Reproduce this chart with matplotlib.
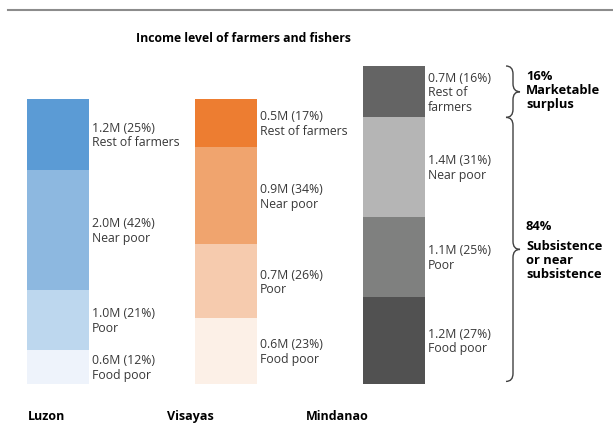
import matplotlib.pyplot as plt
from matplotlib.path import Path
from matplotlib.patches import PathPatch

plt.rcParams['font.family'] = ['Open Sans', 'DejaVu Sans']

# segments listed bottom to top
levels = ['Food poor', 'Poor', 'Near poor', 'Rest of farmers']
regions = ['Luzon', 'Visayas', 'Mindanao']
luzon_m = [0.6, 1.0, 2.0, 1.2]
luzon_pct = [12, 21, 42, 25]
visayas_m = [0.6, 0.7, 0.9, 0.5]
visayas_pct = [23, 26, 34, 17]
mindanao_m = [1.2, 1.1, 1.4, 0.7]
mindanao_pct = [27, 25, 31, 16]

luzon_colors = ['#eef3fb', '#bdd7ee', '#8db8e0', '#5b9bd5']
visayas_colors = ['#fcf0e7', '#f6cbae', '#f0a46e', '#ed7d31']
mindanao_colors = ['#515151', '#7f807f', '#b5b5b5', '#646464']

W, H = 613, 439
fig = plt.figure(figsize=(W / 100, H / 100), dpi=100)

# horizontal rule at the top
fig.add_artist(plt.Line2D([8 / W, 1], [1 - 11 / H, 1 - 11 / H], color='#8c8c8c', lw=1.5))
fig.text(243 / W, 1 - 38 / H, 'Income level of farmers and fishers', ha='center', va='center',
         fontsize=8.8, fontweight='bold')


def stacked_bar(left_px, height_px, width_px, values, pcts, colors, labels):
    ax = fig.add_axes([left_px / W, (H - 385) / H, width_px / W, height_px / H])
    bottom = 0
    for v, p, c, lab in zip(values, pcts, colors, labels):
        ax.bar(0, p, width=62, bottom=bottom, color=c, align='edge', edgecolor='none')
        ax.text(65, bottom + p / 2, f'{v:.1f}M ({p}%)\n{lab}', va='center', ha='left',
                fontsize=8.8, color='#383838', linespacing=1.15)
        bottom += p
    ax.set_xlim(0, width_px)
    ax.set_ylim(0, sum(pcts))
    ax.axis('off')
    return ax


stacked_bar(27, 285, 160, luzon_m, luzon_pct, luzon_colors, levels)
stacked_bar(195, 285, 160, visayas_m, visayas_pct, visayas_colors, levels)
mind_labels = levels[:3] + ['Rest of\nfarmers']
ax_m = stacked_bar(363, 318, 250, mindanao_m, mindanao_pct, mindanao_colors, mind_labels)


def brace(ax, x, y0, y1, w):
    ym = (y0 + y1) / 2
    h = 2.5
    verts = [(x - w, y1), (x, y1), (x, y1 - h),
             (x, ym + h), (x, ym), (x + w, ym),
             (x, ym), (x, ym - h),
             (x, y0 + h), (x, y0), (x - w, y0)]
    codes = [Path.MOVETO, Path.CURVE3, Path.CURVE3,
             Path.LINETO, Path.CURVE3, Path.CURVE3,
             Path.CURVE3, Path.CURVE3,
             Path.LINETO, Path.CURVE3, Path.CURVE3]
    ax.add_patch(PathPatch(Path(verts, codes), fill=False, color='#404040', lw=1.0,
                           clip_on=False))


total_m = sum(mindanao_pct)
top_start = total_m - mindanao_pct[3]
brace(ax_m, 150, top_start, total_m, 7)
brace(ax_m, 150, 0.8, top_start, 7)

ax_m.text(163, total_m - 0.8, f'{mindanao_pct[3]}%\nMarketable\nsurplus', va='top', ha='left',
          fontsize=9.3, fontweight='bold', linespacing=1.1)
ax_m.text(163, top_start / 2 + 7.7, f'{100 - mindanao_pct[3]}%', va='center', ha='left',
          fontsize=9.3, fontweight='bold')
ax_m.text(163, top_start / 2 - 2.6, 'Subsistence\nor near\nsubsistence', va='center', ha='left',
          fontsize=9.3, fontweight='bold', linespacing=1.1)

for name, x in zip(regions, [28, 167, 306]):
    fig.text(x / W, 1 - 417 / H, name, ha='left', va='center', fontsize=9, fontweight='bold')

fig.savefig('out.png', dpi=100)
